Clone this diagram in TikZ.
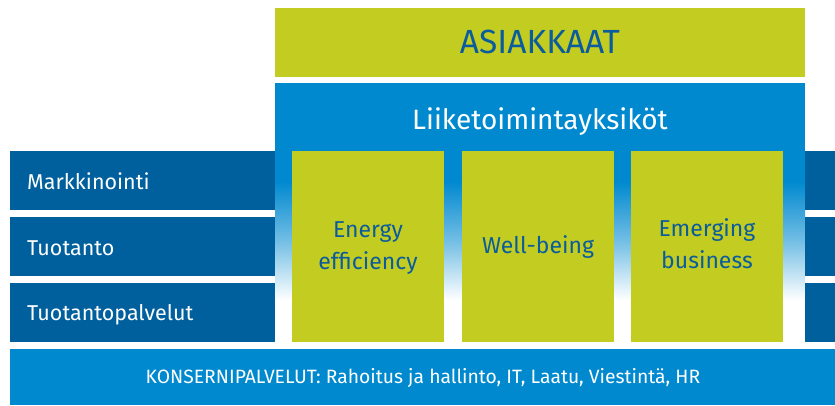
\documentclass[tikz,border=0pt]{standalone}
\usepackage{fontspec}
\setmainfont{Fira Sans}
\definecolor{lime}{HTML}{C3CD21}
\definecolor{darkblue}{HTML}{00609E}
\definecolor{midblue}{HTML}{0089CF}
\definecolor{txtblue}{HTML}{0A5C9C}
\begin{document}
\begin{tikzpicture}[x=1pt,y=-1pt,
  unitlabel/.style={anchor=base west,text=white,font=\fontsize{21.5}{24}\selectfont,inner sep=0pt},
  greenlabel/.style={text=txtblue,font=\fontsize{23}{32}\selectfont,align=center,inner sep=0pt}]
\useasboundingbox (0,0) rectangle (835,405);
\fill[white] (0,0) rectangle (835,405);
% customers
\fill[lime] (275,8) rectangle (805,77);
\node[text=txtblue,font=\fontsize{33.5}{36}\selectfont] (asiakkaat) at (540,42) {ASIAKKAAT};
% business units background
\fill[midblue] (275,83) rectangle (805,182);
\shade[top color=midblue,bottom color=white,middle color=midblue!55] (275,181.5) rectangle (805,300);
\node[text=white,font=\fontsize{28}{32}\selectfont] (liike) at (540,122) {Liiketoimintayksiköt};
% left bars
\fill[darkblue] (10,151) rectangle (275,210);
\fill[darkblue] (10,217) rectangle (275,276);
\fill[darkblue] (10,283) rectangle (275,342);
\node[unitlabel] (mark) at (27,189.5) {Markkinointi};
\node[unitlabel] (tuot) at (27,255) {Tuotanto};
\node[unitlabel] (tpal) at (27,320.5) {Tuotantopalvelut};
% right bars
\fill[darkblue] (805,151) rectangle (835,210);
\fill[darkblue] (805,217) rectangle (835,276);
\fill[darkblue] (805,283) rectangle (835,342);
% green units
\fill[lime] (292,151) rectangle (444,342);
\fill[lime] (462,151) rectangle (614,342);
\fill[lime] (631,151) rectangle (783,342);
\node[greenlabel] (energy) at (368,248.5) {Energy\\efficiency};
\node[greenlabel] (well) at (538,246.5) {Well-being};
\node[greenlabel] (emerg) at (707,244) {Emerging\\business};
% group services
\fill[midblue] (10,349) rectangle (835,405);
\node[text=white,font=\fontsize{19.3}{22}\selectfont] (konserni) at (423,378) {KONSERNIPALVELUT: Rahoitus ja hallinto, IT, Laatu, Viestintä, HR};
\end{tikzpicture}
\end{document}
